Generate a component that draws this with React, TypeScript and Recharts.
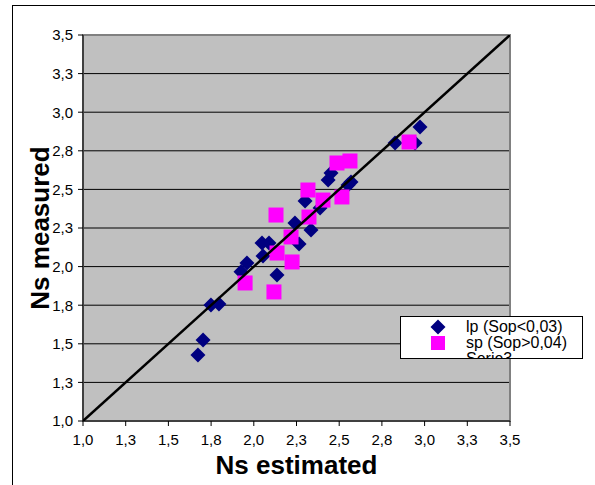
import React from 'react';
import { ScatterChart, Scatter, XAxis, YAxis, CartesianGrid, Legend, ReferenceArea } from 'recharts';

const axisTicks = [1, 1.25, 1.5, 1.75, 2, 2.25, 2.5, 2.75, 3, 3.25, 3.5];
const tickLabels = ['1,0', '1,3', '1,5', '1,8', '2,0', '2,3', '2,5', '2,8', '3,0', '3,3', '3,5'];

const seriesNames = ['lp (Sop<0,03)', 'sp (Sop>0,04)', 'Serie3'];

const lpX = [1.673, 1.703, 1.749, 1.796, 1.925, 1.96, 2.048, 2.089, 2.054, 2.136, 2.241, 2.265, 2.3, 2.335, 2.388, 2.435, 2.452, 2.552, 2.569, 2.827, 2.944, 2.973];
const lpY = [1.427, 1.525, 1.752, 1.758, 1.966, 2.023, 2.153, 2.153, 2.069, 1.946, 2.282, 2.146, 2.425, 2.237, 2.38, 2.561, 2.606, 2.529, 2.548, 2.801, 2.801, 2.904];

const spX = [1.949, 2.118, 2.13, 2.136, 2.218, 2.224, 2.323, 2.317, 2.405, 2.516, 2.487, 2.563, 2.909];
const spY = [1.894, 1.836, 2.334, 2.088, 2.192, 2.03, 2.321, 2.496, 2.431, 2.451, 2.671, 2.684, 2.807];

const serie3X = [1, 3.5];
const serie3Y = [1, 3.5];

const toPoints = (xs: number[], ys: number[]) => xs.map((x, i) => ({ x, y: ys[i] }));

const lpData = toPoints(lpX, lpY);
const spData = toPoints(spX, spY);
const serie3Data = toPoints(serie3X, serie3Y);

const FONT = '"Liberation Sans", Arial, sans-serif';
const NAVY = '#000080';
const MAGENTA = '#FF00FF';

const Diamond = (props: any) => {
  const { cx, cy } = props;
  const r = 7.5;
  return <path d={`M${cx},${cy - r}L${cx + r},${cy}L${cx},${cy + r}L${cx - r},${cy}Z`} fill={NAVY} />;
};

const Square = (props: any) => {
  const { cx, cy } = props;
  const s = 15;
  return <rect x={cx - s / 2} y={cy - s / 2} width={s} height={s} fill={MAGENTA} />;
};

const NoShape = () => <g />;

const fmt = (v: number) => {
  const i = axisTicks.indexOf(v);
  return i >= 0 ? tickLabels[i] : String(v);
};

const YTitle = (props: any) => {
  const vb = props.viewBox || { x: 0, y: 0, width: 0, height: 0 };
  const x = vb.x + 36;
  const y = vb.y + vb.height / 2;
  return (
    <text x={x} y={y} transform={`rotate(-90, ${x}, ${y})`} textAnchor="middle" fontFamily={FONT} fontWeight="bold" fontSize={26} fill="#000">
      Ns measured
    </text>
  );
};

const XTitle = (props: any) => {
  const vb = props.viewBox || { x: 0, y: 0, width: 0, height: 0 };
  const x = vb.x + vb.width / 2;
  const y = vb.y + 53;
  return (
    <text x={x} y={y} textAnchor="middle" fontFamily={FONT} fontWeight="bold" fontSize={26} fill="#000">
      Ns estimated
    </text>
  );
};

const LegendBox = () => (
  <div
    style={{
      width: 183,
      height: 43,
      boxSizing: 'border-box',
      border: '1px solid #000',
      background: '#fff',
      overflow: 'hidden',
      fontFamily: FONT,
      fontSize: 16,
      color: '#000',
      paddingTop: 2,
    }}
  >
    {seriesNames.map((name, i) => (
      <div key={name} style={{ display: 'flex', alignItems: 'center', height: 16, lineHeight: '16px', whiteSpace: 'nowrap' }}>
        <svg width={65} height={16} style={{ flex: 'none' }}>
          {i === 0 && <path d="M37,2.5L44.5,10L37,17.5L29.5,10Z" transform="translate(0,-2)" fill={NAVY} />}
          {i === 1 && <rect x={30} y={1} width={14} height={14} fill={MAGENTA} />}
        </svg>
        <span>{name}</span>
      </div>
    ))}
  </div>
);

export default function App() {
  return (
    <div style={{ position: 'absolute', left: 0, top: 0, width: 595, height: 485, overflow: 'hidden', background: '#fff' }}>
      <div style={{ position: 'absolute', left: 12, top: 5, width: 700, height: 700, borderLeft: '1px solid #000', borderTop: '1px solid #000' }} />
      <div style={{ position: 'absolute', left: 0, top: 0 }}>
        <ScatterChart width={595} height={485} margin={{ top: 35, right: 85, bottom: 10, left: 13 }}>
          <CartesianGrid fill="#C0C0C0" fillOpacity={1} stroke="#000" vertical={false} />
          <ReferenceArea x1={1} x2={3.5} y1={1} y2={3.5} fill="none" stroke="#808080" strokeWidth={2} ifOverflow="visible" />
          <XAxis
            type="number"
            dataKey="x"
            domain={[1, 3.5]}
            ticks={axisTicks}
            tickFormatter={fmt}
            interval={0}
            allowDataOverflow
            height={54}
            tickSize={5}
            tickMargin={8}
            axisLine={{ stroke: '#000' }}
            tickLine={{ stroke: '#000' }}
            tick={{ fill: '#000', fontSize: 15, fontFamily: FONT }}
            label={XTitle}
          />
          <YAxis
            type="number"
            dataKey="y"
            domain={[1, 3.5]}
            ticks={axisTicks}
            tickFormatter={fmt}
            interval={0}
            allowDataOverflow
            width={70}
            tickSize={5}
            tickMargin={5}
            axisLine={{ stroke: '#000' }}
            tickLine={{ stroke: '#000' }}
            tick={{ fill: '#000', fontSize: 15, fontFamily: FONT }}
            label={YTitle}
          />
          <Scatter name={seriesNames[0]} data={lpData} fill={NAVY} shape={Diamond} isAnimationActive={false} />
          <Scatter name={seriesNames[1]} data={spData} fill={MAGENTA} shape={Square} isAnimationActive={false} />
          <Scatter
            name={seriesNames[2]}
            data={serie3Data}
            fill="#000"
            line={{ stroke: '#000', strokeWidth: 2.5 }}
            shape={NoShape}
            isAnimationActive={false}
          />
          <Legend
            layout="vertical"
            align="center"
            verticalAlign="middle"
            content={LegendBox}
            wrapperStyle={{ position: 'absolute', left: 400, top: 316, width: 183, height: 43, right: 'auto', bottom: 'auto' }}
          />
        </ScatterChart>
      </div>
    </div>
  );
}
